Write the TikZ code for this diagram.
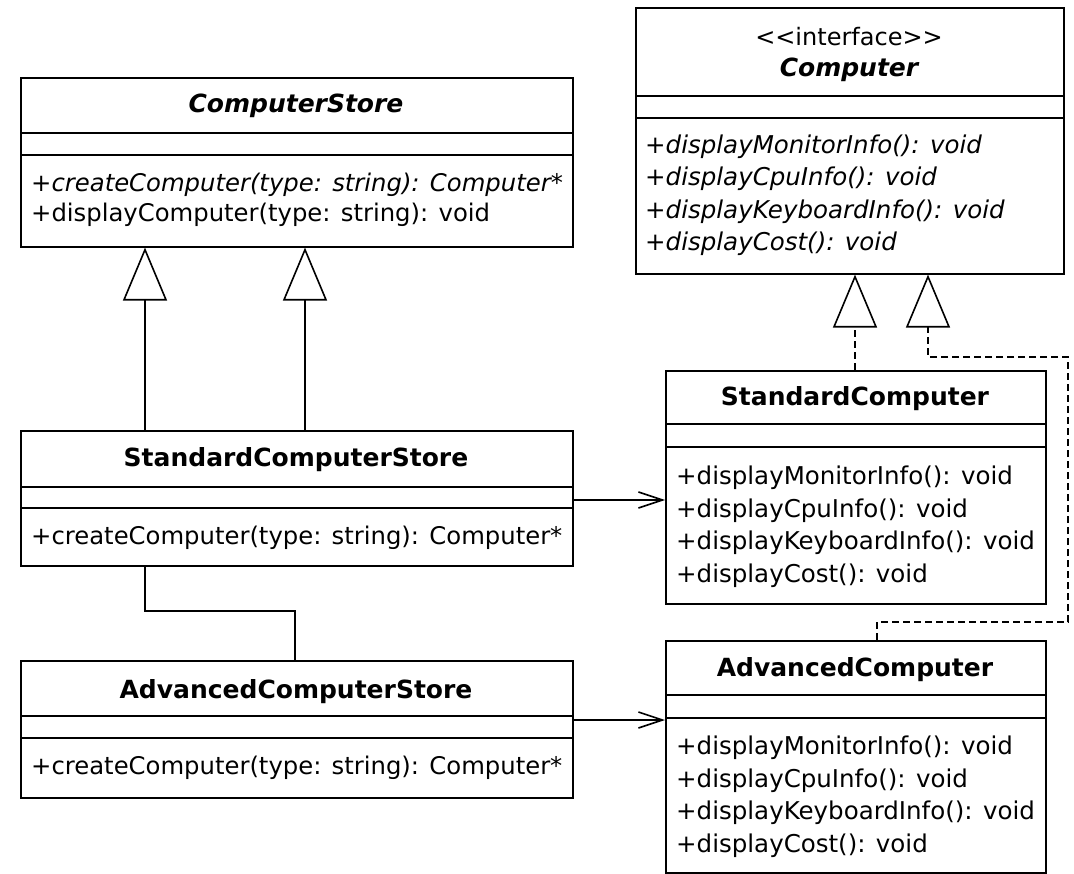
\documentclass[tikz,border=0pt]{standalone}
\usepackage{fontspec}
\setmainfont{DejaVu Sans}
\usetikzlibrary{arrows.meta,positioning}

\tikzset{
  box/.style={draw, line width=1.6pt, anchor=north west, inner sep=0pt},
  classname/.style={font=\fontsize{25}{30}\selectfont\bfseries, anchor=base, inner sep=0pt},
  ops/.style={font=\fontsize{24.3}{30}\selectfont, align=left, anchor=base west, inner sep=0pt},
  bigops/.style={ops, font=\fontsize{24.5}{32.5}\selectfont},
  gen/.style={line width=1.6pt, -{Triangle[open, length=53pt, width=44pt, line width=1.6pt]}},
  real/.style={line width=1.6pt, dash pattern=on 7pt off 4pt, -{Triangle[open, length=53pt, width=44pt, line width=1.6pt, sep=0pt]}},
  assoc/.style={line width=1.6pt, -{Straight Barb[length=24pt, width=16pt, line width=1.6pt]}}
}

\begin{document}
\begin{tikzpicture}[x=1pt, y=-1pt]
\useasboundingbox (0,0) rectangle (1074,874);

%abstract store
\node[box, minimum width=552pt, minimum height=169pt] (store) at (20,77) {};
\draw[line width=1.6pt] (20,133) -- (572,133) (20,155) -- (572,155);
\node[classname] (storename) at (296,113) {\itshape ComputerStore};
\node[ops] (storeops) at (31,222) {\itshape +createComputer(type: string): Computer*\\+displayComputer(type: string): void};

%interface
\node[box, minimum width=428pt, minimum height=266pt] (comp) at (635,7) {};
\draw[line width=1.6pt] (635,96) -- (1063,96) (635,118) -- (1063,118);
\node[font=\fontsize{24}{28}\selectfont, anchor=base, inner sep=0pt] (stereo) at (849,46) {<{}<interface>{}>};
\node[classname] (compname) at (849,77) {\itshape Computer};
\node[bigops] (compops) at (645,251) {\itshape +displayMonitorInfo(): void\\\itshape +displayCpuInfo(): void\\\itshape +displayKeyboardInfo(): void\\\itshape +displayCost(): void};

%standard store
\node[box, minimum width=552pt, minimum height=135pt] (sstore) at (20,430) {};
\draw[line width=1.6pt] (20,487) -- (572,487) (20,508) -- (572,508);
\node[classname] (sstorename) at (296,467) {StandardComputerStore};
\node[ops] (sstoreops) at (31,544) {+createComputer(type: string): Computer*};

%advanced store
\node[box, minimum width=552pt, minimum height=137pt] (astore) at (20,660) {};
\draw[line width=1.6pt] (20,716) -- (572,716) (20,738) -- (572,738);
\node[classname] (astorename) at (296,698) {AdvancedComputerStore};
\node[ops] (astoreops) at (31,774) {+createComputer(type: string): Computer*};

%standard computer
\node[box, minimum width=380pt, minimum height=233pt] (scomp) at (665,370) {};
\draw[line width=1.6pt] (665,424) -- (1045,424) (665,447) -- (1045,447);
\node[classname] (scompname) at (855,406) {StandardComputer};
\node[bigops] (scompops) at (676,582) {+displayMonitorInfo(): void\\+displayCpuInfo(): void\\+displayKeyboardInfo(): void\\+displayCost(): void};

%advanced computer
\node[box, minimum width=380pt, minimum height=232pt] (acomp) at (665,640) {};
\draw[line width=1.6pt] (665,695) -- (1045,695) (665,718) -- (1045,718);
\node[classname] (acompname) at (855,676) {AdvancedComputer};
\node[bigops] (acompops) at (676,852) {+displayMonitorInfo(): void\\+displayCpuInfo(): void\\+displayKeyboardInfo(): void\\+displayCost(): void};

%inheritance
\draw[gen] (sstore.north -| 145,0) -- (store.south -| 145,0);
\draw[gen] (sstore.north -| 305,0) -- (store.south -| 305,0);
\draw[line width=1.6pt] (sstore.south -| 145,0) -- (145,611) -- (295,611) -- (astore.north -| 295,0);

%realization
\draw[real] (scomp.north -| 855,0) -- (comp.south -| 855,0);
\draw[real] (acomp.north -| 877,0) -- (877,622) -- (1068,622) -- (1068,357) -- (928,357) -- (comp.south -| 928,0);

%uses
\draw[assoc] (sstore.east |- 0,500) -- (scomp.west |- 0,500);
\draw[assoc] (astore.east |- 0,720) -- (acomp.west |- 0,720);
\end{tikzpicture}
\end{document}
